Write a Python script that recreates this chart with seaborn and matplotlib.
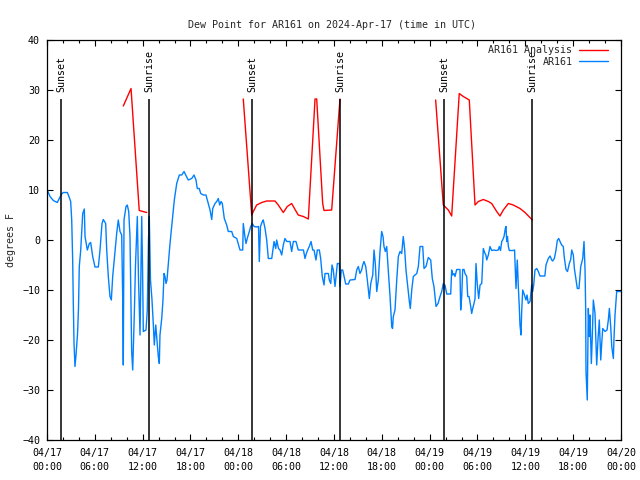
import numpy as np
import pandas as pd
import matplotlib
matplotlib.use("Agg")
import matplotlib.pyplot as plt
import matplotlib.dates as mdates
from matplotlib.lines import Line2D
import seaborn as sns

# observed dew point (hours after 2024-04-17 00:00 UTC, degrees F)
obs_hours = [
    0.00, 0.38, 0.79, 1.29, 1.54, 1.84, 2.04, 2.55, 2.80, 2.97, 3.10, 3.22, 3.30, 3.39, 3.51, 3.64,
    3.83, 3.95, 4.05, 4.23, 4.48, 4.68, 4.77, 5.06, 5.31, 5.48, 5.73, 6.02, 6.44, 6.65, 6.90, 7.06,
    7.36, 7.49, 7.69, 7.90, 8.07, 8.24, 8.74, 8.94, 9.16, 9.37, 9.50, 9.57, 9.66, 9.91, 10.07, 10.25,
    10.41, 10.62, 10.75, 10.95, 11.10, 11.33, 11.48, 11.67, 11.88, 11.98, 12.08, 12.42, 12.58, 12.73,
    12.83, 12.98, 13.17, 13.33, 13.46, 13.64, 13.84, 13.96, 14.09, 14.17, 14.39, 14.55, 14.68, 14.80,
    14.93, 15.05, 15.22, 15.43, 15.77, 15.97, 16.27, 16.60, 16.90, 17.19, 17.40, 17.72, 18.15, 18.44,
    18.69, 18.85, 19.10, 19.28, 19.61, 19.94, 20.16, 20.45, 20.66, 20.79, 21.07, 21.29, 21.49, 21.66,
    21.83, 21.99, 22.24, 22.54, 22.74, 23.17, 23.37, 23.80, 24.21,
    24.55, 24.62, 24.84, 24.96, 25.15, 25.38, 25.55, 25.75, 25.97, 26.30, 26.53, 26.63, 26.78, 27.01,
    27.13, 27.35, 27.56, 27.76, 28.19, 28.31, 28.48, 28.69, 28.81, 29.04, 29.23, 29.44, 29.64, 29.85,
    30.07, 30.48, 30.69, 30.90, 31.23, 31.52, 32.17, 32.36, 32.53, 32.70, 32.90, 33.12, 33.33, 33.49,
    33.74, 33.91, 34.16, 34.33, 34.53, 34.75, 34.87, 35.29, 35.41, 35.59, 35.75, 35.91, 36.13, 36.25,
    36.42, 36.67, 36.75, 36.92, 37.09, 37.26, 37.47, 37.80, 38.01, 38.64, 38.85, 39.05, 39.26, 39.47,
    39.60, 39.76, 39.98, 40.18, 40.43, 40.61, 40.86, 41.02, 41.18, 41.36, 41.56, 41.77, 41.98, 42.15,
    42.27, 42.44, 42.61, 42.81, 43.03, 43.24, 43.34, 43.44, 43.65, 43.87, 44.07, 44.28, 44.49, 44.69,
    44.87, 45.03, 45.25, 45.45, 45.57, 45.75, 45.95, 46.38, 46.58, 46.79, 47.13, 47.29, 47.54, 47.83,
    48.13,
    48.33, 48.54, 48.67, 48.80, 49.05, 49.30, 49.51, 49.71, 49.81, 49.92, 50.14, 50.64, 50.76, 50.89,
    51.05, 51.18, 51.39, 51.80, 51.89, 52.02, 52.14, 52.31, 52.43, 52.65, 52.77, 52.94, 53.15, 53.27,
    53.40, 53.56, 53.69, 53.81, 53.98, 54.15, 54.32, 54.53, 54.65, 54.73, 54.94, 55.05, 55.16, 55.36,
    55.57, 55.78, 56.07, 56.32, 56.61, 56.73, 56.89, 57.04, 57.16, 57.33, 57.49, 57.58, 57.66, 57.76,
    57.87, 57.99, 58.49, 58.65, 58.83, 58.99, 59.12, 59.24, 59.33, 59.46, 59.54, 59.67, 59.83, 60.08,
    60.21, 60.37, 60.59, 60.80, 60.92, 61.05, 61.21, 61.43, 61.63, 61.84, 62.26, 62.45, 62.59, 62.88,
    63.10, 63.31, 63.43, 63.64, 63.85, 64.01, 64.19, 64.35, 64.56, 64.76, 64.89, 65.10, 65.29, 65.52,
    65.69, 65.82, 66.02, 66.15, 66.36, 66.52, 66.73, 66.95, 67.20, 67.36, 67.49, 67.57, 67.61, 67.77,
    67.90, 68.02, 68.11, 68.28, 68.40, 68.53, 68.74, 68.95, 69.12, 69.28, 69.46, 69.58, 69.71, 70.00,
    70.25, 70.41, 70.54, 70.71, 70.84, 71.04, 71.13, 71.25, 71.46, 71.79, 72.00,
]
obs_dewpt = [
    10.1, 8.7, 7.9, 7.5, 8.3, 9.2, 9.5, 9.5, 8.5, 7.7, 4.0, -4.0, -12.7, -20.7, -25.3, -23.0,
    -18.7, -13.7, -5.3, -2.0, 5.3, 6.2, 0.7, -2.0, -0.7, -0.5, -3.3, -5.4, -5.4, -2.0, 3.3, 4.1,
    3.3, -2.0, -7.3, -11.3, -12.0, -7.3, 1.3, 4.0, 1.7, 1.0, -12.0, -25.0, 4.0, 6.7, 7.0, 5.7,
    0.7, -22.3, -26.0, -15.0, -5.0, 4.7, -8.0, -19.0, 4.7, -5.0, -18.3, -18.0, -14.0, 0.0,
    4.7, -8.0, -12.0, -16.7, -21.0, -17.0, -21.0, -23.3, -24.7, -19.0, -15.7, -12.0, -6.7, -7.3,
    -8.7, -8.0, -4.7, -0.7, 4.7, 8.0, 11.3, 13.0, 13.0, 13.7, 13.0, 12.0, 12.3, 13.0,
    12.0, 10.3, 10.3, 9.3, 9.0, 9.0, 7.7, 6.0, 4.1, 6.3, 7.3, 7.7, 8.3, 7.0,
    7.7, 7.3, 4.3, 3.0, 1.7, 1.7, 0.7, 0.3, -2.0,
    -2.0, 3.3, 0.5, -0.7, 0.5, 1.7, 2.7, 3.3, 2.7, 2.6, 2.7, -4.3, 2.7, 3.7,
    4.0, 2.3, 0.0, -3.7, -3.7, -2.3, -0.3, -1.7, 0.0, -1.7, -2.0, -3.0, -1.0, 0.3,
    -0.3, -0.3, -2.3, -0.3, -0.3, -2.0, -2.0, -3.7, -2.7, -2.0, -1.3, -0.3, -2.0, -2.0,
    -4.0, -2.0, -2.0, -3.7, -7.3, -9.0, -6.7, -6.7, -8.0, -8.7, -5.0, -6.0, -9.3, -7.3,
    -4.7, -4.7, -9.3, -6.0, -6.0, -7.3, -8.8, -8.8, -8.0, -7.9, -6.0, -5.3, -6.7, -6.0,
    -5.0, -4.3, -5.3, -8.0, -11.7, -8.7, -7.0, -2.0, -4.7, -10.3, -8.0, -2.3, 1.7, 0.7,
    -1.3, -2.3, -1.3, -6.0, -11.3, -17.3, -17.7, -15.3, -14.0, -8.0, -3.3, -2.3, -2.7, 0.7,
    -2.0, -6.0, -9.3, -12.3, -13.7, -10.0, -7.3, -6.7, -5.3, -1.3, -1.3, -5.7, -5.3, -3.5,
    -4.0,
    -7.7, -9.3, -11.3, -13.3, -12.7, -11.3, -10.3, -8.7, -9.7, -9.0, -10.8, -10.8, -6.0, -7.0,
    -6.7, -7.3, -5.9, -5.9, -14.0, -11.3, -5.9, -5.9, -6.7, -7.3, -11.3, -11.3, -13.3, -14.7,
    -13.7, -12.7, -11.7, -4.7, -9.0, -11.7, -9.0, -8.7, -4.7, -1.7, -2.7, -3.0, -4.0, -3.0,
    -1.3, -2.1, -2.0, -2.1, -2.0, -1.3, -2.1, -0.3, 0.0, 0.7, 2.3, 2.7, -0.3, 0.7,
    -1.3, -2.1, -2.1, -2.0, -9.7, -4.0, -9.3, -13.3, -17.0, -19.0, -14.3, -10.0, -10.7, -12.0,
    -11.0, -12.7, -12.3, -9.0, -10.3, -9.0, -6.0, -5.7, -6.3, -7.2, -7.2, -7.2, -5.0, -3.7,
    -3.2, -4.0, -4.2, -3.7, -2.0, -0.1, 0.3, -0.3, -1.0, -1.3, -3.5, -5.9, -6.3, -4.7,
    -3.9, -2.0, -3.0, -5.7, -8.0, -9.7, -9.7, -5.3, -3.7, -0.3, -6.0, -14.0, -26.3, -32.0,
    -13.7, -19.3, -15.0, -24.7, -19.3, -12.0, -14.7, -25.0, -19.7, -16.0, -24.0, -20.7, -17.7, -18.3,
    -18.0, -16.0, -13.7, -17.3, -21.3, -23.7, -19.3, -15.0, -10.3, -10.3, -10.3,
]

# analysis dew point, NaN separates the gaps
ana_hours = [
    9.57, 10.54, 11.57, 12.50, np.nan,
    24.62, 25.68, 25.88, 26.30, 26.93, 27.56, 28.60, 29.01, 29.64, 30.14, 30.69, 31.11, 31.52,
    32.15, 32.78, 33.62, 33.83, 34.58, 34.75, 35.71, 36.75, np.nan,
    48.75, 49.71, 50.34, 50.76, 51.71, 52.22, 52.97, 53.69, 54.11, 54.73, 55.36, 55.78, 56.41,
    56.82, 57.24, 57.87, 58.49, 59.33, 59.96, 60.88,
]
ana_dewpt = [
    26.8, 30.3, 5.9, 5.5, np.nan,
    28.2, 5.0, 5.7, 7.0, 7.5, 7.8, 7.8, 7.0, 5.5, 6.7, 7.3, 6.1, 5.0,
    4.7, 4.2, 28.2, 28.2, 7.3, 5.9, 6.0, 28.2, np.nan,
    28.0, 7.0, 6.0, 4.8, 29.3, 28.7, 28.0, 7.0, 7.7, 8.1, 7.7, 7.3, 5.7,
    4.8, 6.0, 7.3, 7.0, 6.3, 5.5, 4.0,
]

sun_hours = [1.80, 12.83, 25.76, 36.80, 49.84, 60.88]
sun_labels = ["Sunset", "Sunrise", "Sunset", "Sunrise", "Sunset", "Sunrise"]

start = pd.Timestamp("2024-04-17 00:00")
end = pd.Timestamp("2024-04-20 00:00")

obs = pd.DataFrame({"time": start + pd.to_timedelta(obs_hours, unit="h"), "dewpt": obs_dewpt})
ana = pd.DataFrame({"hours": ana_hours, "dewpt": ana_dewpt})
ana["seg"] = ana["hours"].isna().cumsum()
ana = ana.dropna()
ana["time"] = start + pd.to_timedelta(ana["hours"], unit="h")
sun_times = start + pd.to_timedelta(sun_hours, unit="h")

sns.set_style("ticks")
plt.rcParams["font.family"] = ["DejaVu Sans Mono"]
plt.rcParams["font.size"] = 7.2

fig = plt.figure(figsize=(6.4, 4.8), dpi=100)
ax = fig.add_axes([47 / 640, 40 / 480, 574 / 640, 400 / 480])

red = "#ff0000"
blue = "#0080ff"

sns.lineplot(data=ana, x="time", y="dewpt", units="seg", estimator=None,
             color=red, lw=1.0, ax=ax, legend=False)
sns.lineplot(data=obs, x="time", y="dewpt", estimator=None, sort=False,
             color=blue, lw=1.0, ax=ax, legend=False)

for t, lab in zip(sun_times, sun_labels):
    ax.vlines(t, -40, 28.2, color="black", lw=1.1, zorder=3)
    ax.text(t, 29.6, lab, rotation=90, ha="center", va="bottom", color="black")

ax.set_xlim(start, end)
ax.set_ylim(-40, 40)
ax.set_yticks(np.arange(-40, 41, 10))
ax.xaxis.set_major_locator(mdates.HourLocator(byhour=[0, 6, 12, 18]))
ax.xaxis.set_minor_locator(mdates.HourLocator(byhour=list(range(0, 24, 2))))
ax.xaxis.set_major_formatter(mdates.DateFormatter("%m/%d\n%H:%M"))

ax.tick_params(which="both", direction="in", top=True, right=True, colors="black", labelsize=7.2)
ax.tick_params(which="major", length=4.5, width=0.8)
ax.tick_params(which="minor", length=2.5, width=0.8)
ax.tick_params(axis="x", pad=6)
ax.tick_params(axis="y", pad=5)
for sp in ax.spines.values():
    sp.set_visible(True)
    sp.set_color("black")
    sp.set_linewidth(0.9)

ax.set_xlabel("")
ax.set_ylabel("degrees F", labelpad=4)
fig.suptitle("Dew Point for AR161 on 2024-Apr-17 (time in UTC)", y=0.958, x=0.519, fontsize=7.2)

handles = [Line2D([], [], color=red, lw=1.0), Line2D([], [], color=blue, lw=1.0)]
ax.legend(handles, ["AR161 Analysis", "AR161"], loc="upper right", frameon=False,
          markerfirst=False, handlelength=2.9, handletextpad=0.7, labelspacing=0.15,
          borderaxespad=0.0, bbox_to_anchor=(0.985, 0.997), fontsize=7.2)

fig.canvas.draw()
plt.setp(ax.get_xticklabels(), linespacing=1.5)

fig.savefig("out.png", dpi=100)
plt.close(fig)
